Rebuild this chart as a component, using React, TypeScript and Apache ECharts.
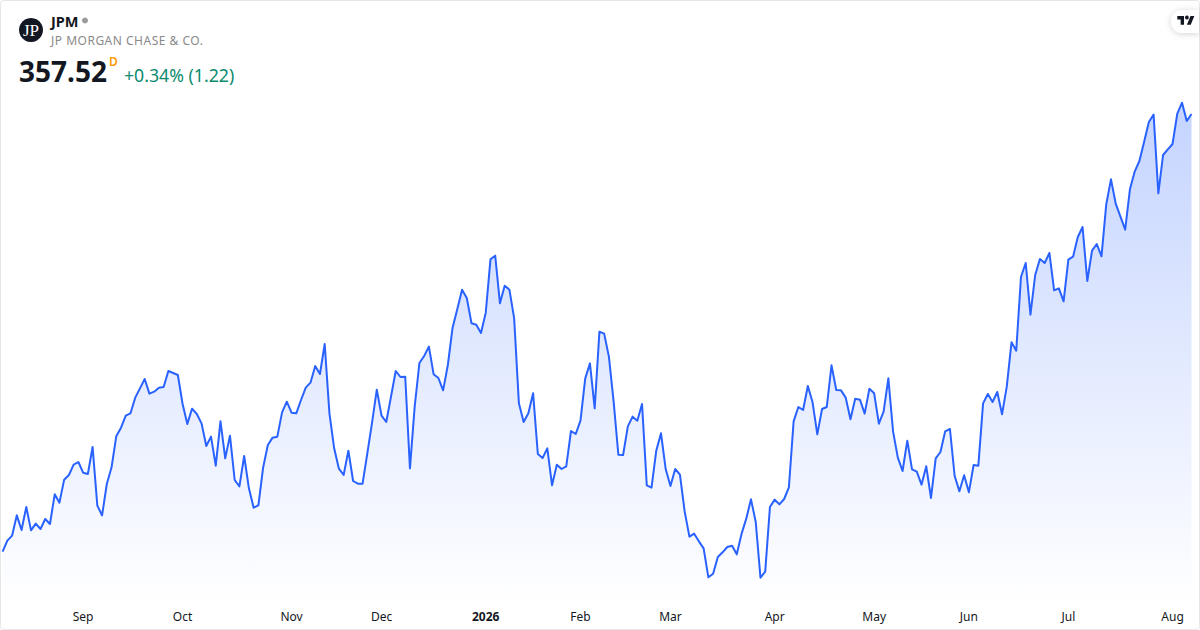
import React, { useEffect, useRef } from "react";
import * as echarts from "echarts";

const closes = [
  291.87, 293.52, 294.27, 297.32, 295.12, 298.57, 295.07, 296.07, 295.27, 296.77, 296.02, 300.47,
  299.22, 302.67, 303.37, 304.92, 305.32, 303.72, 303.52, 307.57, 298.77, 297.32, 302.02, 304.52,
  309.17, 310.47, 312.27, 312.62, 314.97, 316.37, 317.77, 315.57, 315.87, 316.47, 316.57, 318.97,
  318.67, 318.37, 314.02, 311.02, 313.32, 312.52, 311.12, 307.72, 309.12, 304.77, 311.42, 305.87,
  309.27, 302.62, 301.67, 306.22, 301.37, 298.47, 298.82, 304.47, 307.87, 308.97, 309.12, 312.77,
  314.37, 312.72, 312.62, 314.62, 316.47, 317.22, 319.72, 318.52, 323.02, 312.62, 307.37, 304.32,
  303.37, 307.02, 302.47, 302.07, 302.07, 306.62, 311.22, 316.17, 312.27, 311.32, 315.12, 318.97,
  318.07, 318.12, 304.37, 313.62, 320.17, 321.22, 322.62, 318.47, 317.92, 316.07, 319.87, 325.47,
  328.27, 331.17, 329.92, 326.12, 325.92, 324.67, 327.72, 335.72, 336.27, 329.12, 331.77, 331.17,
  326.87, 314.12, 311.32, 312.62, 315.62, 306.52, 305.92, 307.37, 301.82, 304.92, 304.27, 304.67,
  309.97, 309.52, 311.52, 317.82, 320.12, 313.37, 324.87, 324.57, 321.12, 314.37, 306.42, 306.37,
  310.67, 312.12, 311.52, 314.02, 301.82, 301.47, 307.02, 309.62, 304.22, 301.72, 304.27, 303.42,
  297.87, 294.12, 294.57, 293.42, 292.37, 288.02, 288.57, 291.07, 291.77, 292.57, 292.77, 291.47,
  294.52, 296.82, 299.72, 296.32, 287.97, 288.87, 298.57, 299.67, 298.97, 299.77, 301.52, 311.42,
  313.57, 313.12, 316.72, 314.27, 309.47, 313.27, 313.57, 319.82, 316.12, 316.07, 314.97, 311.72,
  314.82, 314.67, 312.57, 316.32, 315.62, 311.07, 312.87, 317.87, 309.87, 305.97, 303.97, 308.52,
  304.22, 303.87, 301.92, 304.67, 299.92, 305.87, 306.82, 309.92, 310.27, 303.22, 300.92, 303.32,
  300.77, 304.87, 304.77, 314.12, 315.52, 314.32, 315.82, 312.47, 316.62, 323.27, 322.02, 333.07,
  335.17, 327.42, 333.37, 335.77, 335.17, 336.67, 331.07, 331.37, 329.42, 335.67, 336.12, 339.07,
  340.57, 332.47, 337.02, 338.02, 336.17, 343.97, 347.72, 344.07, 342.12, 340.17, 346.22, 348.87,
  350.47, 353.37, 356.32, 357.42, 345.62, 351.37, 352.22, 353.02, 357.57, 359.22, 356.47, 357.52,
];
const marketHolidays = [
  "2025-09-01", "2025-11-27", "2025-12-25", "2026-01-01", "2026-01-19",
  "2026-02-16", "2026-04-03", "2026-05-25", "2026-06-19", "2026-07-03",
];
const monthNames = ["2026", "Feb", "Mar", "Apr", "May", "Jun", "Jul", "Aug", "Sep", "Oct", "Nov", "Dec"];

const symbol = "JPM";
const company = "JP MORGAN CHASE & CO.";
const lastPrice = "357.52";
const changeText = "+0.34% (1.22)";

function tradingDays(): string[] {
  const out: string[] = [];
  const end = Date.UTC(2026, 7, 7);
  for (let t = Date.UTC(2025, 7, 7); t <= end; t += 86400000) {
    const d = new Date(t);
    const day = d.getUTCDay();
    const iso = d.toISOString().slice(0, 10);
    if (day !== 0 && day !== 6 && !marketHolidays.includes(iso)) out.push(iso);
  }
  return out;
}

const FONT = '"Noto Sans", sans-serif';
const LINE = "#2962ff";
const INK = "#131722";

echarts.graphic.registerShape(
  "tvLogo",
  echarts.graphic.extendPath("M14 22H7V11H0V4h14v18zM28 22h-8l7.5-18h8L28 22z", {}) as any
);

export default function App() {
  const ref = useRef<HTMLDivElement>(null);
  useEffect(() => {
    const chart = echarts.init(ref.current!, undefined, { renderer: "svg" });
    const days = tradingDays();
    const firstOfMonth = new Set<number>();
    days.forEach((d, i) => {
      if (i > 0 && d.slice(5, 7) !== days[i - 1].slice(5, 7)) firstOfMonth.add(i);
    });
    const txt = (x: number, y: number, text: string, fontSize: number, fill: string, fontWeight: any = "normal", extra: any = {}) => ({
      type: "text",
      x,
      y,
      silent: true,
      style: { text, fontSize, fill, fontWeight, fontFamily: FONT, textVerticalAlign: "middle", ...extra },
    });
    chart.setOption({
      animation: false,
      backgroundColor: "#ffffff",
      grid: { left: 2.6, width: 1188.9, top: 0, height: 600, containLabel: false },
      xAxis: {
        type: "category",
        data: days,
        boundaryGap: false,
        axisLine: { show: false },
        axisTick: { show: false },
        splitLine: { show: false },
        axisLabel: {
          margin: 10,
          fontFamily: FONT,
          fontSize: 12,
          color: INK,
          interval: (i: number) => firstOfMonth.has(i),
          formatter: (v: string) => {
            const name = monthNames[Number(v.slice(5, 7)) - 1];
            return name === "2026" ? "{y|2026}" : name;
          },
          rich: { y: { fontFamily: FONT, fontSize: 12, fontWeight: "bold", color: INK } },
        },
      },
      yAxis: { type: "value", min: 284.62, max: 374.62, show: false, splitLine: { show: false } },
      series: [
        {
          type: "line",
          data: closes,
          symbol: "none",
          smooth: false,
          lineStyle: { color: LINE, width: 2, join: "round" },
          areaStyle: {
            origin: "start",
            opacity: 1,
            color: new echarts.graphic.LinearGradient(0, 0, 0, 605, [
              { offset: 0, color: "rgba(41,98,255,0.33)" },
              { offset: 1, color: "rgba(41,98,255,0.0)" },
            ], true),
          },
        },
      ],
      graphic: [
        { type: "rect", silent: true, shape: { x: 0.5, y: 0.5, width: 1199, height: 629, r: 3 }, style: { fill: "none", stroke: "#e6e6e6", lineWidth: 1 } },
        { type: "circle", silent: true, shape: { cx: 31, cy: 30, r: 12 }, style: { fill: INK } },
        { type: "text", silent: true, x: 31, y: 30.5, style: { text: "JP", fontSize: 17, fill: "#ffffff", fontFamily: '"Liberation Serif", serif', textAlign: "center", textVerticalAlign: "middle" } },
        txt(51, 21, symbol, 14.5, INK, "bold"),
        { type: "circle", silent: true, shape: { cx: 85, cy: 20.5, r: 3 }, style: { fill: "#9b9b9b" } },
        txt(51, 40.5, company, 12, "#8a8a8a", "normal"),
        txt(19, 70.5, lastPrice, 28, INK, "bold"),
        txt(109, 61, "D", 12, "#ff9800", 600),
        txt(124, 74.5, changeText, 17.7, "#0b8a6f", "normal"),
        {
          type: "rect",
          silent: true,
          shape: { x: 1171, y: 10, width: 28, height: 23, r: [11.5, 0, 0, 11.5] },
          style: { fill: "#ffffff", shadowBlur: 6, shadowColor: "rgba(0,0,0,0.18)", shadowOffsetY: 1 },
        },
        { type: "tvLogo", silent: true, x: 1177.3, y: 14.1, scaleX: 0.48, scaleY: 0.48, style: { fill: "#131722" } },
        { type: "circle", silent: true, shape: { cx: 1186.9, cy: 17.5, r: 1.9 }, style: { fill: "#131722" } },
      ],
    } as any);
    ref.current!.querySelectorAll("text").forEach((t) => {
      if (t.textContent === company) t.setAttribute("letter-spacing", "0.5");
    });
    return () => chart.dispose();
  }, []);
  return <div ref={ref} style={{ position: "absolute", left: 0, top: 0, width: 1200, height: 630 }} />;
}
